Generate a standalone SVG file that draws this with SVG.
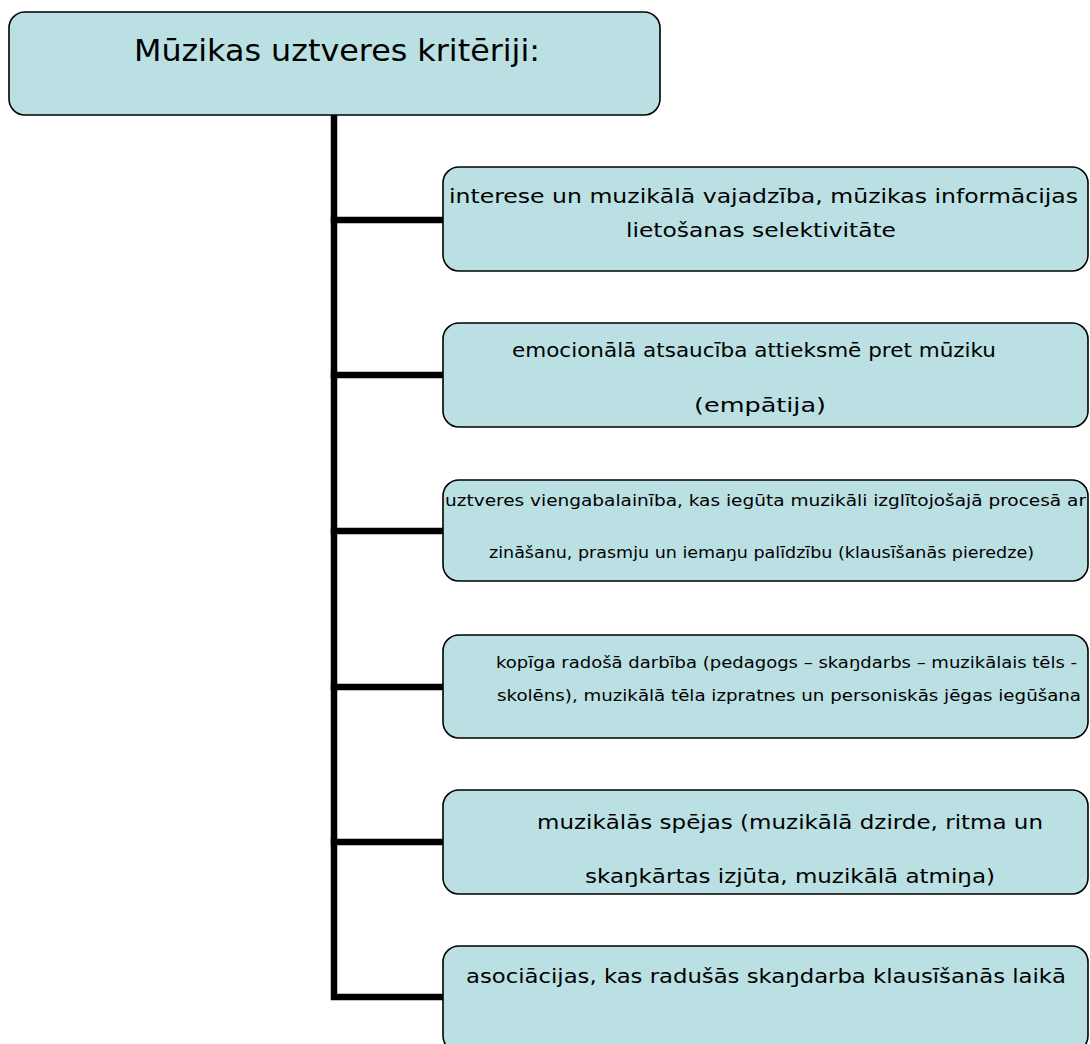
<svg xmlns="http://www.w3.org/2000/svg" width="1090" height="1044" viewBox="0 0 1090 1044">
  <style>
    .box { fill: #bbe0e3; stroke: #000; stroke-width: 1.6; }
    .lbl { font-family: "DejaVu Sans", "Open Sans", sans-serif; fill: #000; }
    .big { font-size: 30px; }
    .mid { font-size: 19px; }
    .sml { font-size: 16px; }
    .wire { stroke: #000; stroke-width: 6.5; fill: none; stroke-linecap: square; }
  </style>

  <!-- tree connectors: trunk and branches -->
  <g id="connectors">
    <path class="wire" d="M334 116 V997 H443"/>
    <path class="wire" d="M334 220 H443"/>
    <path class="wire" d="M334 375 H443"/>
    <path class="wire" d="M334 531 H443"/>
    <path class="wire" d="M334 687 H443"/>
    <path class="wire" d="M334 842 H443"/>
  </g>

  <g id="root">
    <rect class="box" x="9" y="12" width="651" height="103" rx="16"/>
    <text class="lbl big" x="134" y="61" textLength="406" lengthAdjust="spacingAndGlyphs">Mūzikas uztveres kritēriji:</text>
  </g>

  <g id="c1">
    <rect class="box" x="443" y="167" width="645" height="104" rx="16"/>
    <text class="lbl mid" x="449" y="203" textLength="629" lengthAdjust="spacingAndGlyphs">interese un muzikālā vajadzība, mūzikas informācijas</text>
    <text class="lbl mid" x="626" y="237" textLength="270" lengthAdjust="spacingAndGlyphs">lietošanas selektivitāte</text>
  </g>

  <g id="c2">
    <rect class="box" x="443" y="323" width="645" height="104" rx="16"/>
    <text class="lbl mid" x="512" y="357" textLength="484" lengthAdjust="spacingAndGlyphs">emocionālā atsaucība attieksmē pret mūziku</text>
    <text class="lbl mid" x="694" y="412" textLength="132" lengthAdjust="spacingAndGlyphs">(empātija)</text>
  </g>

  <g id="c3">
    <rect class="box" x="443" y="480" width="645" height="101" rx="16"/>
    <text class="lbl sml" x="445" y="506" textLength="641" lengthAdjust="spacingAndGlyphs">uztveres viengabalainība, kas iegūta muzikāli izglītojošajā procesā ar</text>
    <text class="lbl sml" x="489" y="558" textLength="545" lengthAdjust="spacingAndGlyphs">zināšanu, prasmju un iemaŋu palīdzību (klausīšanās pieredze)</text>
  </g>

  <g id="c4">
    <rect class="box" x="443" y="635" width="645" height="103" rx="16"/>
    <text class="lbl sml" x="496" y="668" textLength="581" lengthAdjust="spacingAndGlyphs">kopīga radošā darbība (pedagogs – skaŋdarbs – muzikālais tēls -</text>
    <text class="lbl sml" x="497" y="701" textLength="584" lengthAdjust="spacingAndGlyphs">skolēns), muzikālā tēla izpratnes un personiskās jēgas iegūšana</text>
  </g>

  <g id="c5">
    <rect class="box" x="443" y="790" width="645" height="104" rx="16"/>
    <text class="lbl mid" x="537" y="829" textLength="506" lengthAdjust="spacingAndGlyphs">muzikālās spējas (muzikālā dzirde, ritma un</text>
    <text class="lbl mid" x="585" y="883" textLength="410" lengthAdjust="spacingAndGlyphs">skaŋkārtas izjūta, muzikālā atmiŋa)</text>
  </g>

  <g id="c6">
    <rect class="box" x="443" y="946" width="645" height="106" rx="16"/>
    <text class="lbl mid" x="466" y="983" textLength="600" lengthAdjust="spacingAndGlyphs">asociācijas, kas radušās skaŋdarba klausīšanās laikā</text>
  </g>
</svg>
